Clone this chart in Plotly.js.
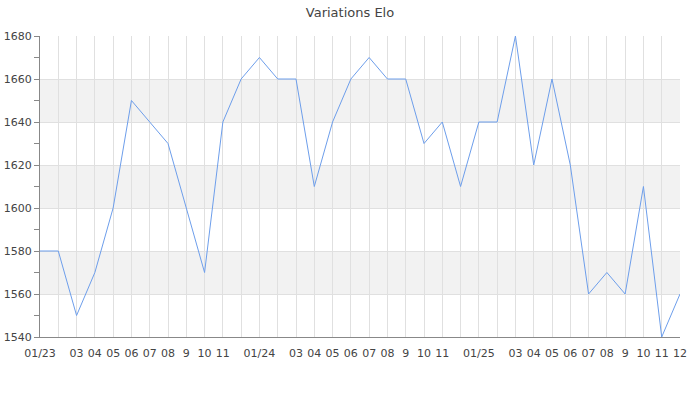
<!DOCTYPE html>
<html>
<head>
<meta charset="utf-8">
<script src="https://cdn.plot.ly/plotly-3.0.1.min.js"></script>
<style>html,body{margin:0;padding:0;background:#fff}#chart{width:700px;height:400px}</style>
</head>
<body>
<div id="chart"></div>
<script>
const months = ["01/23","02/23","03/23","04/23","05/23","06/23","07/23","08/23","09/23","10/23","11/23","12/23",
"01/24","02/24","03/24","04/24","05/24","06/24","07/24","08/24","09/24","10/24","11/24","12/24",
"01/25","02/25","03/25","04/25","05/25","06/25","07/25","08/25","09/25","10/25","11/25","12/25"];
const tickLabels = ["01/23","","03","04","05","06","07","08","9","10","11","",
"01/24","","03","04","05","06","07","08","9","10","11","",
"01/25","","03","04","05","06","07","08","9","10","11","12"];
const elo = [1580,1580,1550,1570,1600,1650,1640,1630,1600,1570,1640,1660,
1670,1660,1660,1610,1640,1660,1670,1660,1660,1630,1640,1610,
1640,1640,1680,1620,1660,1620,1560,1570,1560,1610,1540,1560];
const bandsLow = [1560,1600,1640];
const bandsHigh = [1580,1620,1660];

const idx = months.map((_, i) => i);
const shapes = bandsLow.map((lo, i) => ({
  type: 'rect', xref: 'paper', yref: 'y', x0: 0, x1: 1, y0: lo, y1: bandsHigh[i],
  fillcolor: '#f2f2f2', line: {width: 0}, layer: 'below'
}));

Plotly.newPlot('chart', [{
  x: idx, y: elo, type: 'scatter', mode: 'lines',
  line: {color: '#6d9eeb', width: 1},
  hoverinfo: 'skip'
}], {
  width: 700, height: 400,
  margin: {l: 40, r: 20, t: 36, b: 63},
  paper_bgcolor: '#fff', plot_bgcolor: 'rgba(0,0,0,0)',
  font: {family: 'DejaVu Sans, sans-serif', size: 11, color: '#444'},
  title: {text: 'Variations Elo', font: {size: 13, color: '#444'}, x: 0.5, xanchor: 'center', y: 0.97, yanchor: 'middle'},
  showlegend: false,
  shapes: shapes,
  xaxis: {
    range: [0, 35], tickmode: 'array', tickvals: idx, ticktext: tickLabels,
    tickangle: 0, showgrid: true, gridcolor: '#e0e0e0', gridwidth: 1,
    showline: true, linecolor: '#888', linewidth: 1,
    ticks: 'outside', ticklen: 6, tickcolor: 'rgba(0,0,0,0)',
    zeroline: false, fixedrange: true
  },
  yaxis: {
    range: [1540, 1680], tickmode: 'linear', tick0: 1540, dtick: 20,
    showgrid: true, gridcolor: '#e0e0e0', gridwidth: 1,
    showline: true, linecolor: '#888', linewidth: 1,
    ticks: 'outside', ticklen: 5, tickcolor: '#888',
    minor: {dtick: 10, ticks: 'outside', ticklen: 5, tickcolor: '#888', showgrid: false},
    zeroline: false, fixedrange: true
  }
}, {displayModeBar: false, staticPlot: true});
</script>
</body>
</html>
